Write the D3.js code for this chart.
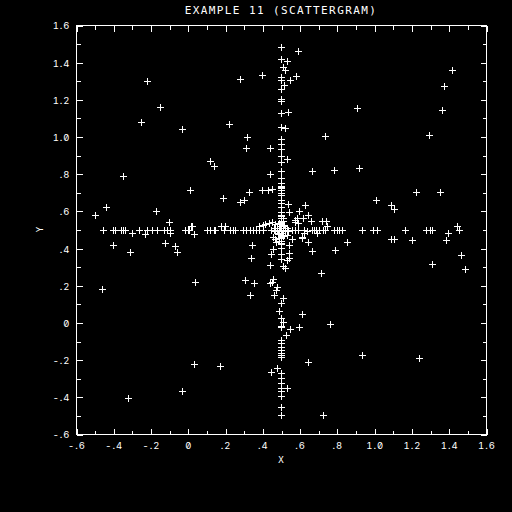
<!DOCTYPE html>
<html>
<head>
<meta charset="utf-8">
<script src="https://cdn.jsdelivr.net/npm/d3@7"></script>
<style>
  body { margin: 0; background: #000; }
  svg { display: block; background: #000; }
  text { fill: #fff; font-family: "DejaVu Sans Mono", monospace; }
  .tick text { font-family: Inter, "DejaVu Sans", sans-serif; font-feature-settings: "zero", "tnum"; }
</style>
</head>
<body>
<svg id="chart" width="512" height="512"></svg>
<script>
// points lying on the horizontal arm (y = 0.5)
var rowX = [-0.457, -0.403, -0.391, -0.357, -0.346, -0.335, -0.262, -0.217, -0.194, -0.164,
  -0.126, -0.11, -0.096, -0.017, 0.0, 0.008, 0.105, 0.117, 0.139, 0.148, 0.194, 0.228, 0.24,
  0.253, 0.296, 0.312, 0.334, 0.351, 0.366, 0.384, 0.405, 0.445, 0.46, 0.47, 0.48, 0.49,
  0.52, 0.53, 0.54, 0.56, 0.575, 0.59, 0.625, 0.665, 0.677, 0.688, 0.706, 0.723, 0.736,
  0.786, 0.799, 0.81, 0.827, 0.933, 0.992, 1.014, 1.165, 1.277, 1.301, 1.309, 1.457];

// points lying on the vertical arm (x = 0.5)
var colY = [1.483, 1.415, 1.322, 1.304, 1.254, 1.203, 1.193, 1.128, 1.049, 0.985, 0.96,
  0.931, 0.895, 0.864, 0.816, 0.775, 0.748, 0.734, 0.73, 0.721, 0.712, 0.698, 0.694, 0.685,
  0.66, 0.644, 0.622, 0.595, 0.578, 0.56, 0.545, 0.455, 0.44, 0.42, 0.399, 0.366, 0.339,
  0.103, 0.022, -0.019, -0.026, -0.095, -0.113, -0.131, -0.148, -0.163, -0.175, -0.184,
  -0.274, -0.301, -0.328, -0.355, -0.367, -0.394, -0.453, -0.498];

// remaining scattered points
var scatterX = [-0.50, -0.44, -0.35, -0.25, -0.22, -0.15, -0.17, -0.10, -0.03, 0.01, 0.02,
  0.12, 0.14, 0.19, 0.22, 0.28, 0.32, 0.31, 0.28, 0.30, 0.33, 0.40, 0.44, 0.44, 0.45, 0.43,
  0.40, -0.40, -0.31, -0.46, -0.32, -0.12, -0.07, -0.06, 0.04, 0.035, -0.03, 0.17, 0.305,
  0.357, 0.334, 0.346, 0.339, 0.443, 0.448, 0.439, 0.453, 0.461, 0.473, 0.445, 0.48, -0.30,
  -0.23, -0.094, 0.033, 0.016, 0.18, 0.20, 0.38, 0.416, 0.434, 0.591, 0.531, 0.581, 0.548,
  0.538, 0.522, 0.534, 1.416, 1.373, 1.366, 1.293, 0.906, 0.736, 0.666, 0.785, 0.919, 1.223,
  1.352, 1.008, 1.092, 1.106, 0.629, 0.536, 0.597, 0.541, 0.647, 0.618, 0.584, 0.577, 0.663,
  0.722, 0.742, 0.749, 1.445, 1.395, 1.089, 1.106, 1.203, 1.385, 1.464, 1.489, 1.31, 0.853,
  0.79, 0.666, 0.713, 0.647, 0.614, 0.543, 0.613, 0.765, 0.595, 0.548, 0.527, 0.935, 1.24,
  0.645, 0.724, 0.531, 0.509, 0.522, 0.516, 0.513, 0.51, 0.489, 0.513, 0.477, 0.611, 0.557,
  0.624, 0.641, 0.692, 0.541, 0.534, 0.544, 0.459, 0.455, 0.519, 0.593, 0.575, 0.405, 0.45,
  0.459, 0.468, 0.473, 0.49, 0.51, 0.5, 0.5, 0.48, 0.52, 0.49, 0.51, 0.47, 0.53, 0.5, 0.5,
  0.485, 0.515, 0.49, 0.51, 0.47, 0.53, 0.46, 0.54, 0.5,
  0.495, 0.505, 0.49, 0.51, 0.48, 0.52, 0.47, 0.53, 0.488, 0.512, 0.498, 0.502, 0.49, 0.51];
var scatterY = [0.58, 0.62, 0.79, 1.08, 1.30, 1.16, 0.60, 0.54, 1.04, 0.71, 0.52, 0.87, 0.84,
  0.67, 1.07, 1.31, 1.00, 0.94, 0.65, 0.66, 0.70, 1.33, 0.94, 0.80, 0.72, 0.71, 0.71, 0.415,
  0.38, 0.18, -0.405, 0.43, 0.41, 0.38, 0.22, -0.225, -0.37, -0.235, 0.23, 0.21, 0.146,
  0.418, 0.346, 0.309, 0.37, 0.21, 0.217, 0.147, 0.174, -0.265, -0.245, 0.48, 0.476, 0.479,
  0.476, 0.519, 0.52, 0.52, 0.52, 0.53, 0.533, 1.462, 1.406, 1.327, 1.304, 1.132, 1.044,
  0.877, 1.356, 1.272, 1.141, 1.006, 1.153, 1.003, 0.814, 0.82, 0.831, 0.70, 0.701, 0.658,
  0.63, 0.608, 0.633, 0.639, 0.601, 0.595, 0.578, 0.563, 0.56, 0.542, 0.547, 0.547, 0.547,
  0.519, 0.52, 0.483, 0.45, 0.45, 0.443, 0.443, 0.361, 0.289, 0.313, 0.432, 0.389, 0.384,
  0.267, 0.434, 0.452, 0.416, 0.047, -0.009, -0.025, -0.037, -0.068, -0.175, -0.192, -0.215,
  -0.498, -0.353, 1.372, 1.357, 1.275, 0.303, 0.13, 0.063, 0.004, 0.192, 0.458, 0.447, 0.479,
  0.493, 0.479, 0.375, 0.336, 0.345, 0.393, 0.233, 0.291, 0.533, 0.551, 0.524, 0.542, 0.461,
  0.447, 0.434, 0.5, 0.5, 0.49, 0.51, 0.51, 0.49, 0.53, 0.47, 0.49, 0.51, 0.54, 0.46, 0.475,
  0.525, 0.44, 0.56, 0.53, 0.47, 0.51, 0.49, 0.5,
  0.52, 0.48, 0.48, 0.52, 0.5, 0.5, 0.51, 0.49, 0.535, 0.465, 0.43, 0.57, 0.455, 0.545];

var tickValues = d3.range(-6, 17).map(function(i) { return i / 10; });
var tickLabels = ["-.6", "-.4", "-.2", "0", ".2", ".4", ".6", ".8", "1.0", "1.2", "1.4", "1.6"];

var title = "EXAMPLE 11 (SCATTERGRAM)";

var svg = d3.select("#chart");
var mLeft = 76, mRight = 486, mTop = 25, mBottom = 434;

var x = d3.scaleLinear().domain([-0.6, 1.6]).range([mLeft, mRight]);
var y = d3.scaleLinear().domain([-0.6, 1.6]).range([mBottom, mTop]);

function isMajor(v) { return Math.round(v * 10) % 2 === 0; }
function label(v) { return isMajor(v) ? tickLabels[Math.round((v + 0.6) * 5)] : ""; }

// frame
svg.append("rect")
  .attr("x", mLeft + 0.5).attr("y", mTop + 0.5)
  .attr("width", mRight - mLeft).attr("height", mBottom - mTop)
  .attr("fill", "none").attr("stroke", "#fff").attr("shape-rendering", "crispEdges");

function drawAxis(axis, tx, ty, dir, sign, withText) {
  var g = svg.append("g").attr("transform", "translate(" + tx + "," + ty + ")")
    .call(axis.tickValues(tickValues).tickSize(-4).tickFormat(withText ? label : ""));
  g.select(".domain").remove();
  g.selectAll(".tick line")
    .attr("stroke", "#fff").attr("shape-rendering", "crispEdges")
    .attr(dir, function(d) { return sign * (isMajor(d) ? 6 : 4); });
  return g;
}

var gx = drawAxis(d3.axisBottom(x), 0.5, mBottom + 0.5, "y2", -1, true);
gx.selectAll("text").attr("fill", "#fff").attr("y", 14.5).attr("dy", null)
  .style("font-size", "9.5px").style("letter-spacing", "1px");
drawAxis(d3.axisTop(x), 0.5, mTop + 0.5, "y2", 1, false);

var gy = drawAxis(d3.axisLeft(y), mLeft + 0.5, 0.5, "x2", 1, true);
gy.selectAll("text").attr("fill", "#fff").attr("x", -6).attr("dy", "0.36em")
  .style("font-size", "9.5px").style("letter-spacing", "1px");
drawAxis(d3.axisRight(y), mRight + 0.5, 0.5, "x2", -1, false);
svg.selectAll(".tick text").attr("font-family", null);

// markers
var pts = [];
rowX.forEach(function(v) { pts.push([v, 0.5]); });
colY.forEach(function(v) { pts.push([0.5, v]); });
scatterX.forEach(function(v, i) { pts.push([v, scatterY[i]]); });

svg.append("g").selectAll("path").data(pts).enter().append("path")
  .attr("transform", function(d) {
    return "translate(" + (Math.round(x(d[0])) + 0.5) + "," + (Math.round(y(d[1])) + 0.5) + ")";
  })
  .attr("d", "M-3.5,0H3.5M0,-3.5V3.5")
  .attr("stroke", "#fff").attr("stroke-width", 1.2).attr("shape-rendering", "crispEdges");

// titles
svg.append("text").attr("x", 281).attr("y", 13.5).attr("text-anchor", "middle")
  .style("font-size", "11px").style("letter-spacing", "1.4px").text(title);
svg.append("text").attr("x", 281).attr("y", 462.5).attr("text-anchor", "middle")
  .style("font-size", "9px").text("X");
svg.append("text").attr("transform", "translate(43,229.5) rotate(-90)")
  .attr("text-anchor", "middle").style("font-size", "9px").text("Y");
</script>
</body>
</html>
